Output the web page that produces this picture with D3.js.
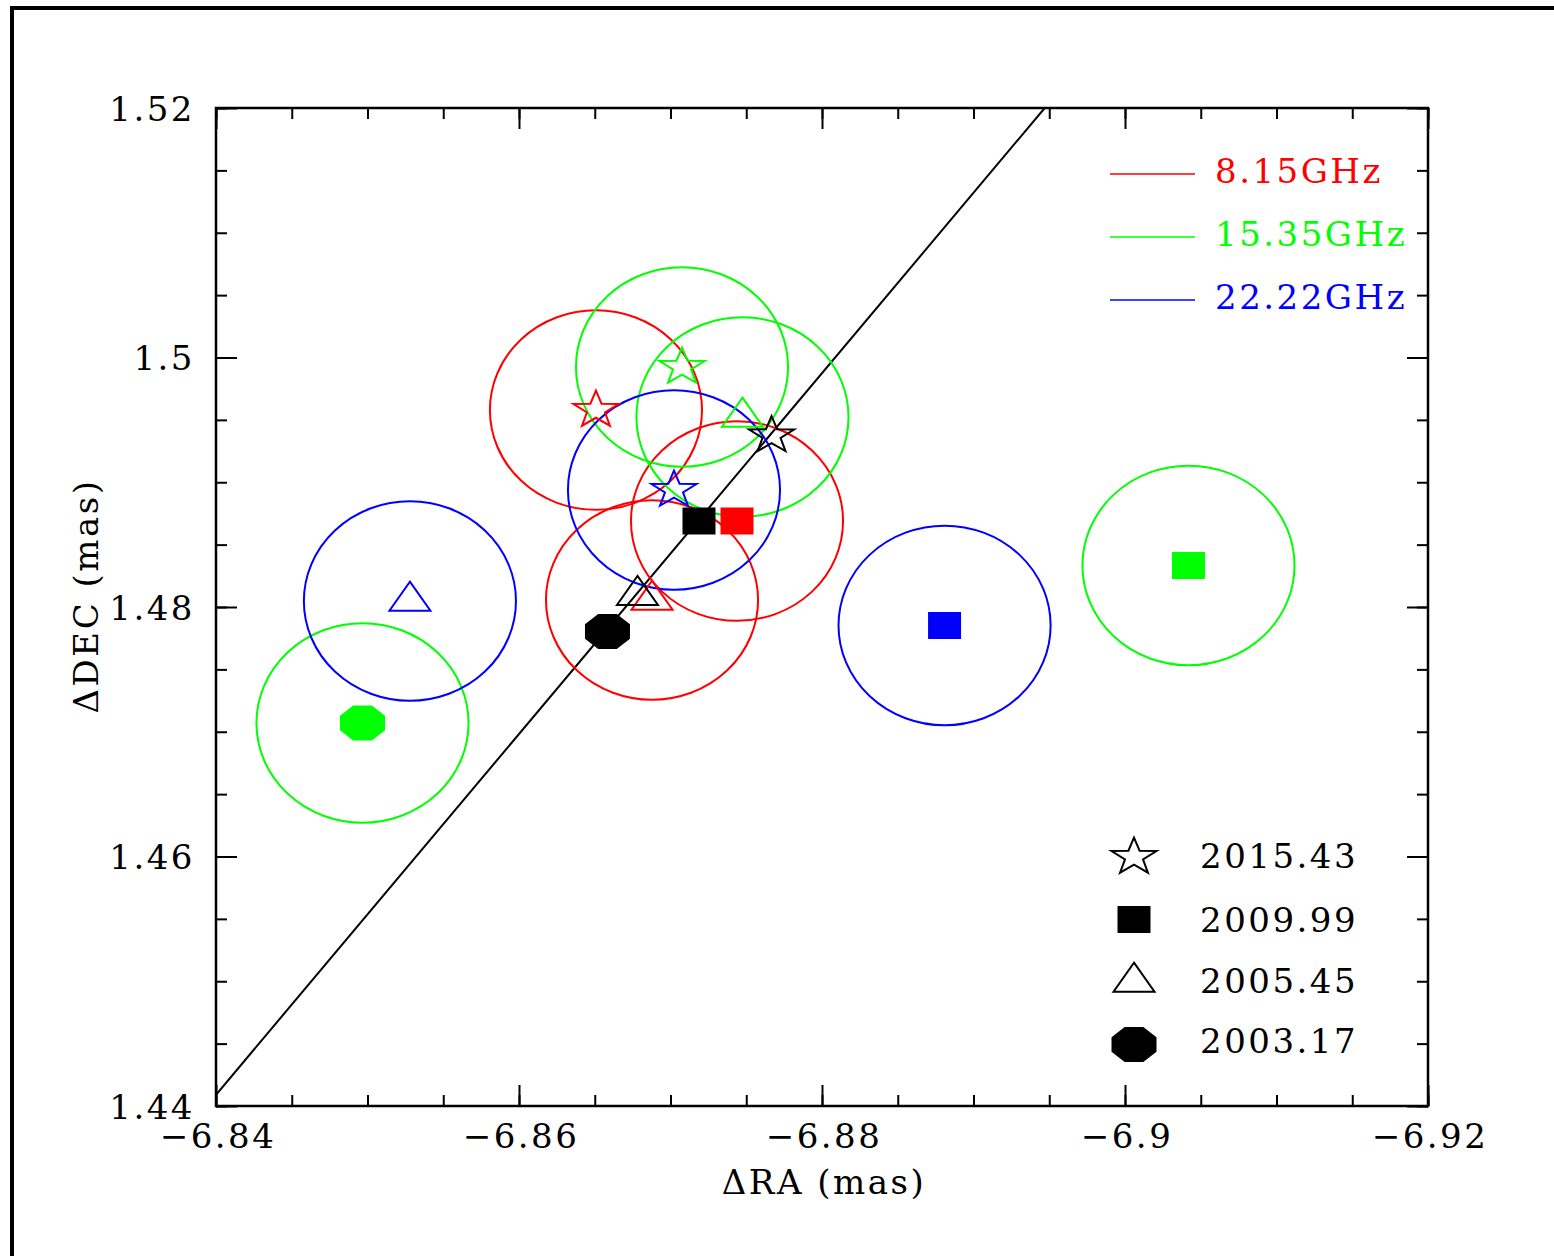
<!DOCTYPE html>
<html><head><meta charset="utf-8">
<script src="https://cdn.jsdelivr.net/npm/d3@7"></script>
<style>
html,body{margin:0;padding:0;background:#fff;}
svg{display:block;}
text{font-family:"DejaVu Serif",serif;font-size:34px;letter-spacing:2.5px;}
</style></head><body>
<script>
// ---- data ----
const freqLabels = ["8.15GHz", "15.35GHz", "22.22GHz"];
const freqColors = ["#ff0000", "#00ff00", "#0000ff"];
const epochLabels = ["2015.43", "2009.99", "2005.45", "2003.17"];
const epochSymbols = ["star", "square", "triangle", "octagon"];

// 8.15 GHz
const ra815 = [-6.86508, -6.87439, -6.86878];
const dec815 = [1.49579, 1.48689, 1.48056];
const ep815 = ["2015.43", "2009.99", "2005.45"];
// 15.35 GHz
const ra1535 = [-6.87076, -6.87475, -6.90419, -6.84967];
const dec1535 = [1.49924, 1.49523, 1.48333, 1.47070];
const ep1535 = ["2015.43", "2005.45", "2009.99", "2003.17"];
// 22.22 GHz
const ra2222 = [-6.87023, -6.88809, -6.85280];
const dec2222 = [1.48938, 1.47852, 1.48048];
const ep2222 = ["2015.43", "2009.99", "2005.45"];
// black reference positions
const raRef = [-6.87667, -6.87188, -6.86782, -6.86584];
const decRef = [1.49375, 1.48689, 1.48094, 1.47804];
const epRef = ["2015.43", "2009.99", "2005.45", "2003.17"];
// error ellipse half-axes (mas)
const errRA = 0.007;
const errDEC = 0.008;
// fitted line endpoints
const lineRA = [-6.84, -6.8947];
const lineDEC = [1.4409, 1.52];

// axes
const xDomain = [-6.84, -6.92];
const yDomain = [1.44, 1.52];
const xMajor = [-6.84, -6.86, -6.88, -6.90, -6.92];
const xTickLabels = ["\u22126.84", "\u22126.86", "\u22126.88", "\u22126.9", "\u22126.92"];
const yMajor = [1.44, 1.46, 1.48, 1.50, 1.52];
const yTickLabels = ["1.44", "1.46", "1.48", "1.5", "1.52"];

// ---- layout ----
const W = 1554, H = 1256;
const L = 216, R = 1428, T = 108, B = 1106;

const svg = d3.select("body").append("svg").attr("width", W).attr("height", H);
svg.append("rect").attr("x", 0).attr("y", 0).attr("width", W).attr("height", H).attr("fill", "#fff");
// outer frame
svg.append("rect").attr("x", 12).attr("y", 8).attr("width", W + 20).attr("height", H + 20)
  .attr("fill", "none").attr("stroke", "#000").attr("stroke-width", 4);

const x = d3.scaleLinear().domain(xDomain).range([L, R]);
const y = d3.scaleLinear().domain(yDomain).range([B, T]);

const xMinor = d3.range(-6920, -6839, 5).map(v => v / 1000);
const yMinor = d3.range(1440, 1521, 5).map(v => v / 1000);

function drawAxis(axisFn, scale, transform, vals, size, fmt) {
  const ax = axisFn(scale).tickValues(vals).tickSize(size).tickSizeOuter(0).tickPadding(10);
  ax.tickFormat(fmt || (() => ""));
  const g = svg.append("g").attr("transform", transform).call(ax);
  g.select(".domain").remove();
  g.selectAll(".tick line").attr("stroke", "#000").attr("stroke-width", 2);
  return g;
}
// minor ticks
drawAxis(d3.axisBottom, x, `translate(0,${B})`, xMinor, -11);
drawAxis(d3.axisTop, x, `translate(0,${T})`, xMinor, -11);
drawAxis(d3.axisLeft, y, `translate(${L},0)`, yMinor, -11);
drawAxis(d3.axisRight, y, `translate(${R},0)`, yMinor, -11);
// major ticks
const gxb = drawAxis(d3.axisBottom, x, `translate(0,${B})`, xMajor, -21,
  d => xTickLabels[xMajor.indexOf(d)]);
drawAxis(d3.axisTop, x, `translate(0,${T})`, xMajor, -21);
const gyl = drawAxis(d3.axisLeft, y, `translate(${L},0)`, yMajor, -21,
  d => yTickLabels[yMajor.indexOf(d)]);
drawAxis(d3.axisRight, y, `translate(${R},0)`, yMajor, -21);

gxb.selectAll(".tick text").attr("fill", "#000").attr("font-family", null).attr("font-size", null)
  .attr("y", 0).attr("dy", null).attr("transform", "translate(1.5,42)");
gyl.selectAll(".tick text").attr("fill", "#000").attr("font-family", null).attr("font-size", null)
  .attr("x", -21).attr("dy", "0.36em");

// plot frame
svg.append("rect").attr("x", L).attr("y", T).attr("width", R - L).attr("height", B - T)
  .attr("fill", "none").attr("stroke", "#000").attr("stroke-width", 2.5);

// clip
svg.append("clipPath").attr("id", "clip").append("rect")
  .attr("x", L).attr("y", T).attr("width", R - L).attr("height", B - T);
const plot = svg.append("g").attr("clip-path", "url(#clip)");

// fitted line
plot.append("path")
  .attr("d", d3.line().x(d => x(d[0])).y(d => y(d[1]))(lineRA.map((v, i) => [v, lineDEC[i]])))
  .attr("stroke", "#000").attr("stroke-width", 2).attr("fill", "none");

// marker shapes (pixel units)
function symbolPath(type) {
  if (type === "star") {
    const Rx = 23.7, Ry = 19.35, k = 0.40;
    const pts = d3.range(10).map(i => {
      const a = (-90 + i * 36) * Math.PI / 180, r = i % 2 ? k : 1;
      return [Rx * r * Math.cos(a), Ry * r * Math.sin(a)];
    });
    return "M" + pts.map(p => p.join(",")).join("L") + "Z";
  }
  if (type === "square") return "M-16.5,-13.5H16.5V13.5H-16.5Z";
  if (type === "triangle") {
    const w = 41, h = 29;
    return `M0,${-2 * h / 3}L${w / 2},${h / 3}L${-w / 2},${h / 3}Z`;
  }
  // octagon
  const Rx = 24.35, Ry = 18.94;
  const pts = d3.range(8).map(i => {
    const a = (22.5 + i * 45) * Math.PI / 180;
    return [Rx * Math.cos(a), Ry * Math.sin(a)];
  });
  return "M" + pts.map(p => p.join(",")).join("L") + "Z";
}
const filled = t => t === "square" || t === "octagon";
function symFor(ep) { return epochSymbols[epochLabels.indexOf(ep)]; }

const sets = [
  { ra: ra815, dec: dec815, ep: ep815, color: freqColors[0] },
  { ra: ra1535, dec: dec1535, ep: ep1535, color: freqColors[1] },
  { ra: ra2222, dec: dec2222, ep: ep2222, color: freqColors[2] },
];

// error ellipses
sets.forEach(s => {
  s.ra.forEach((v, i) => {
    plot.append("ellipse")
      .attr("cx", x(v)).attr("cy", y(s.dec[i]))
      .attr("rx", Math.abs(x(v + errRA) - x(v))).attr("ry", Math.abs(y(s.dec[i] + errDEC) - y(s.dec[i])))
      .attr("fill", "none").attr("stroke", s.color).attr("stroke-width", 2);
  });
});

function drawMarker(g, px, py, type, color) {
  g.append("path").attr("d", symbolPath(type))
    .attr("transform", `translate(${px},${py})`)
    .attr("fill", filled(type) ? color : "none")
    .attr("stroke", filled(type) ? "none" : color)
    .attr("stroke-width", 2).attr("stroke-linejoin", "miter");
}
sets.forEach(s => {
  s.ra.forEach((v, i) => drawMarker(plot, x(v), y(s.dec[i]), symFor(s.ep[i]), s.color));
});
raRef.forEach((v, i) => drawMarker(plot, x(v), y(decRef[i]), symFor(epRef[i]), "#000"));

// frequency legend
const legY = [174, 237, 300];
freqLabels.forEach((lab, i) => {
  svg.append("line").attr("x1", 1110).attr("x2", 1195).attr("y1", legY[i]).attr("y2", legY[i])
    .attr("stroke", freqColors[i]).attr("stroke-width", 1.5);
  svg.append("text").attr("x", 1215).attr("y", legY[i] + 9).attr("fill", freqColors[i]).text(lab);
});

// epoch legend
const epY = [857, 919.5, 982, 1044.5];
epochLabels.forEach((lab, i) => {
  drawMarker(svg, 1134, epY[i], epochSymbols[i], "#000");
  svg.append("text").attr("x", 1200).attr("y", [868, 932, 993, 1053][i]).attr("fill", "#000").text(lab);
});

// axis titles
svg.append("text").attr("x", 824).attr("y", 1194).attr("text-anchor", "middle").text("\u0394RA (mas)");
svg.append("text").attr("transform", "translate(98,596) rotate(-90)").attr("text-anchor", "middle")
  .text("\u0394DEC (mas)");
</script>
</body></html>
